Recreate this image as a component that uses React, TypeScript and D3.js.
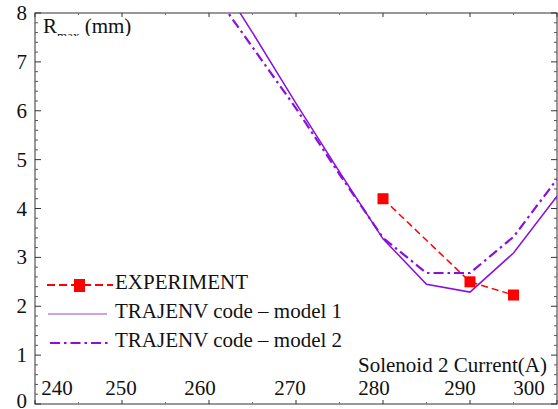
import React from "react";
import * as d3 from "d3";

// --- data ---
const currents = [260, 265, 270, 275, 280, 285, 290, 295, 300];
const model1 = [9.0, 7.6, 6.15, 4.75, 3.38, 2.45, 2.29, 3.09, 4.25];
const model2 = [8.55, 7.3, 6.05, 4.7, 3.4, 2.68, 2.68, 3.42, 4.6];

const expCurrents = [280, 290, 295];
const expValues = [4.2, 2.5, 2.23];

const xTicks = [240, 250, 260, 270, 280, 290, 300];
const yTicks = [0, 1, 2, 3, 4, 5, 6, 7, 8];
// labels in the original are nudged off their ticks
const xLabelShift = [22, -1, -9, -6, -9, -10, -28];

const legendLabels = ["EXPERIMENT", "TRAJENV code \u2013 model 1", "TRAJENV code \u2013 model 2"];

const W = 558;
const H = 409;
const RED = "#ff0000";
const PURPLE = "#8a0fdc";
const PURPLE_LIGHT = "#9a45e0";

function T(props: any) {
  const { children, size = 21, ...rest } = props;
  return (
    <text {...rest} fill="#111" style={{ fontFamily: "Liberation Serif", fontSize: size }}>
      {children}
    </text>
  );
}

export default function App() {
  const x = d3.scaleLinear().domain([240, 300]).range([35, 557]);
  const y = d3.scaleLinear().domain([0, 8]).range([404, 13]);

  const line = d3
    .line<[number, number]>()
    .x((d) => x(d[0]))
    .y((d) => y(d[1]));

  const m1 = line(currents.map((c, i) => [c, model1[i]]));
  const m2 = line(currents.map((c, i) => [c, model2[i]]));
  const ex = line(expCurrents.map((c, i) => [c, expValues[i]]));

  const xMinor = d3.range(245, 300, 10);
  const yMinor = d3.range(0, 8.001, 0.2).filter((v) => Math.abs(v - Math.round(v)) > 0.01);

  const [x0, x1] = x.range();
  const [y0, y1] = y.range();

  return (
    <svg width={W} height={H} style={{ position: "absolute", left: 0, top: 0 }}>
      <defs>
        <clipPath id="plot">
          <rect x={x0} y={y1} width={x1 - x0} height={y0 - y1} />
        </clipPath>
        <clipPath id="ylab">
          <rect x={0} y={0} width={200} height={36} />
        </clipPath>
      </defs>
      <rect x={0} y={0} width={W} height={H} fill="#fff" />

      {/* frame */}
      <rect x={x0} y={y1} width={x1 - x0} height={y0 - y1} fill="none" stroke="#333" strokeWidth={1} />

      {/* x ticks, bottom and top */}
      {xTicks.map((t) => (
        <g key={"xt" + t} stroke="#333">
          <line x1={x(t)} x2={x(t)} y1={y0} y2={y0 - 4} />
          <line x1={x(t)} x2={x(t)} y1={y1} y2={y1 + 4} />
        </g>
      ))}
      {xMinor.map((t) => (
        <g key={"xm" + t} stroke="#777">
          <line x1={x(t)} x2={x(t)} y1={y0} y2={y0 - 2} />
          <line x1={x(t)} x2={x(t)} y1={y1} y2={y1 + 2} />
        </g>
      ))}

      {/* y ticks, left and right */}
      {yTicks.map((t) => (
        <g key={"yt" + t} stroke="#333">
          <line x1={x0} x2={x0 + 6} y1={y(t)} y2={y(t)} />
          <line x1={x1} x2={x1 - 6} y1={y(t)} y2={y(t)} />
        </g>
      ))}
      {yMinor.map((t) => (
        <g key={"ym" + t.toFixed(1)} stroke="#555">
          <line x1={x0} x2={x0 + 3} y1={y(t)} y2={y(t)} />
          <line x1={x1} x2={x1 - 3} y1={y(t)} y2={y(t)} />
        </g>
      ))}

      {/* tick labels */}
      {xTicks.map((t, i) => (
        <T key={"xl" + t} x={x(t) + xLabelShift[i]} y={395} textAnchor="middle">
          {t}
        </T>
      ))}
      {yTicks.map((t) => (
        <T key={"yl" + t} x={27} y={Math.min(y(t) + 7, 408)} textAnchor="end">
          {t}
        </T>
      ))}

      {/* axis titles */}
      <g clipPath="url(#ylab)">
        <T x={43} y={33}>
          R
          <tspan style={{ fontSize: 13 }} dy={7}>max</tspan>
          <tspan dy={-7}> (mm)</tspan>
        </T>
      </g>
      <T x={547} y={372} textAnchor="end">
        Solenoid 2 Current(A)
      </T>

      {/* series */}
      <g clipPath="url(#plot)" fill="none">
        <path d={m1 ?? ""} stroke={PURPLE} strokeWidth={1.5} />
        <path d={m2 ?? ""} stroke={PURPLE} strokeWidth={2.2} strokeDasharray="10,4,2.5,4" />
        <path d={ex ?? ""} stroke={RED} strokeWidth={1.5} strokeDasharray="7,4" />
      </g>
      {expCurrents.map((c, i) => (
        <rect key={"em" + c} x={x(c) - 5.5} y={y(expValues[i]) - 5.5} width={11} height={11} fill={RED} />
      ))}

      {/* legend */}
      <g>
        <line x1={47} x2={113} y1={285} y2={285} stroke={RED} strokeWidth={1.8} strokeDasharray="8,4" />
        <rect x={74} y={279} width={11} height={13} fill={RED} />
        <T x={115} y={289}>{legendLabels[0]}</T>

        <line x1={48} x2={107} y1={314} y2={314} stroke={PURPLE_LIGHT} strokeWidth={1.2} />
        <T x={115} y={318}>{legendLabels[1]}</T>

        <line x1={50} x2={111} y1={343} y2={343} stroke={PURPLE} strokeWidth={2} strokeDasharray="10,4,2.5,4" />
        <T x={115} y={347}>{legendLabels[2]}</T>
      </g>
    </svg>
  );
}
